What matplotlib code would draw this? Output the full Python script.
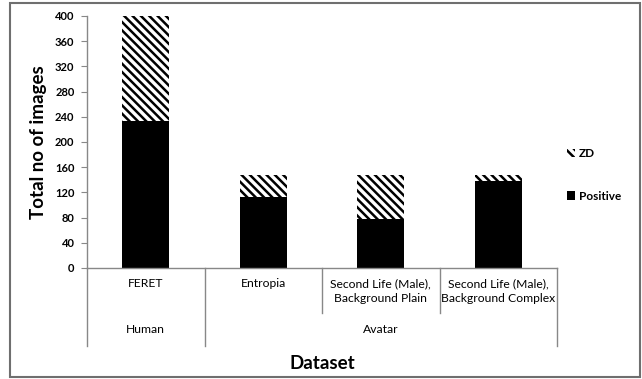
import matplotlib.pyplot as plt
from matplotlib.patches import Rectangle, Patch
from matplotlib.lines import Line2D

plt.rcParams['font.family'] = ['Lato', 'DejaVu Sans']
plt.rcParams['hatch.linewidth'] = 1.8

categories = ["FERET", "Entropia", "Second Life (Male),\nBackground Plain",
              "Second Life (Male),\nBackground Complex"]
groups = ["Human", "Avatar"]
positive = [234, 113, 77, 138]
zd = [166, 35, 71, 10]
yticks = [0, 40, 80, 120, 160, 200, 240, 280, 320, 360, 400]

fig = plt.figure(figsize=(6.42, 3.79), dpi=100)
ax = fig.add_axes([87/642, 1-268/379, 470/642, 252/379])

x = list(range(len(categories)))
ax.bar(x, positive, 0.4, color='black', label='Positive')
ax.bar(x, zd, 0.4, bottom=positive, color='white', edgecolor='black',
       linewidth=0, hatch='\\\\\\\\', label='ZD')

ax.set_xlim(-0.5, 3.5)
ax.set_ylim(0, 400)
ax.set_yticks(yticks)
ax.set_yticklabels([str(t) for t in yticks], fontsize=8, fontweight='bold')
ax.set_xticks([])
for s in ['top', 'right']:
    ax.spines[s].set_visible(False)
for s in ['left', 'bottom']:
    ax.spines[s].set_color('#888888')
    ax.spines[s].set_linewidth(1)
ax.tick_params(axis='y', color='#888888', length=4, pad=5)

ax.set_ylabel('Total no of images', fontsize=13.5, fontweight='bold', labelpad=6)

# category labels and separators
tr = ax.get_xaxis_transform()
for i, c in enumerate(categories):
    ax.text(i, -0.04, c, transform=tr, ha='center', va='top', fontsize=8.7,
            linespacing=1.4)
for xv in [-0.5, 0.5, 3.5]:
    ax.add_line(Line2D([xv, xv], [0, -0.31], transform=tr, color='#888888',
                       lw=1, clip_on=False))
for xv in [1.5, 2.5]:
    ax.add_line(Line2D([xv, xv], [0, -0.18], transform=tr, color='#888888',
                       lw=1, clip_on=False))
ax.text(0, -0.245, groups[0], transform=tr, ha='center', va='center', fontsize=8.7)
ax.text(2, -0.245, groups[1], transform=tr, ha='center', va='center', fontsize=8.7)
ax.text(0.5, -0.377, 'Dataset', transform=ax.transAxes, ha='center',
        va='center', fontsize=13.5, fontweight='bold')

handles = [Patch(facecolor='white', edgecolor='black', linewidth=0, hatch='\\\\\\\\'),
           Patch(facecolor='black')]
leg = fig.legend(handles, ['ZD', 'Positive'], loc='center left',
                 bbox_to_anchor=(556/642, 1-175/379), frameon=False,
                 handlelength=0.75, handleheight=0.75, handletextpad=0.3,
                 labelspacing=2.7, prop={'size': 8.5, 'weight': 'bold'})

fig.patches.append(Rectangle((10/642, 1-377/379), 630/642, 374/379,
                             transform=fig.transFigure, fill=False,
                             edgecolor='#6f6f6f', lw=1.5))

fig.savefig('out.png', dpi=100)
